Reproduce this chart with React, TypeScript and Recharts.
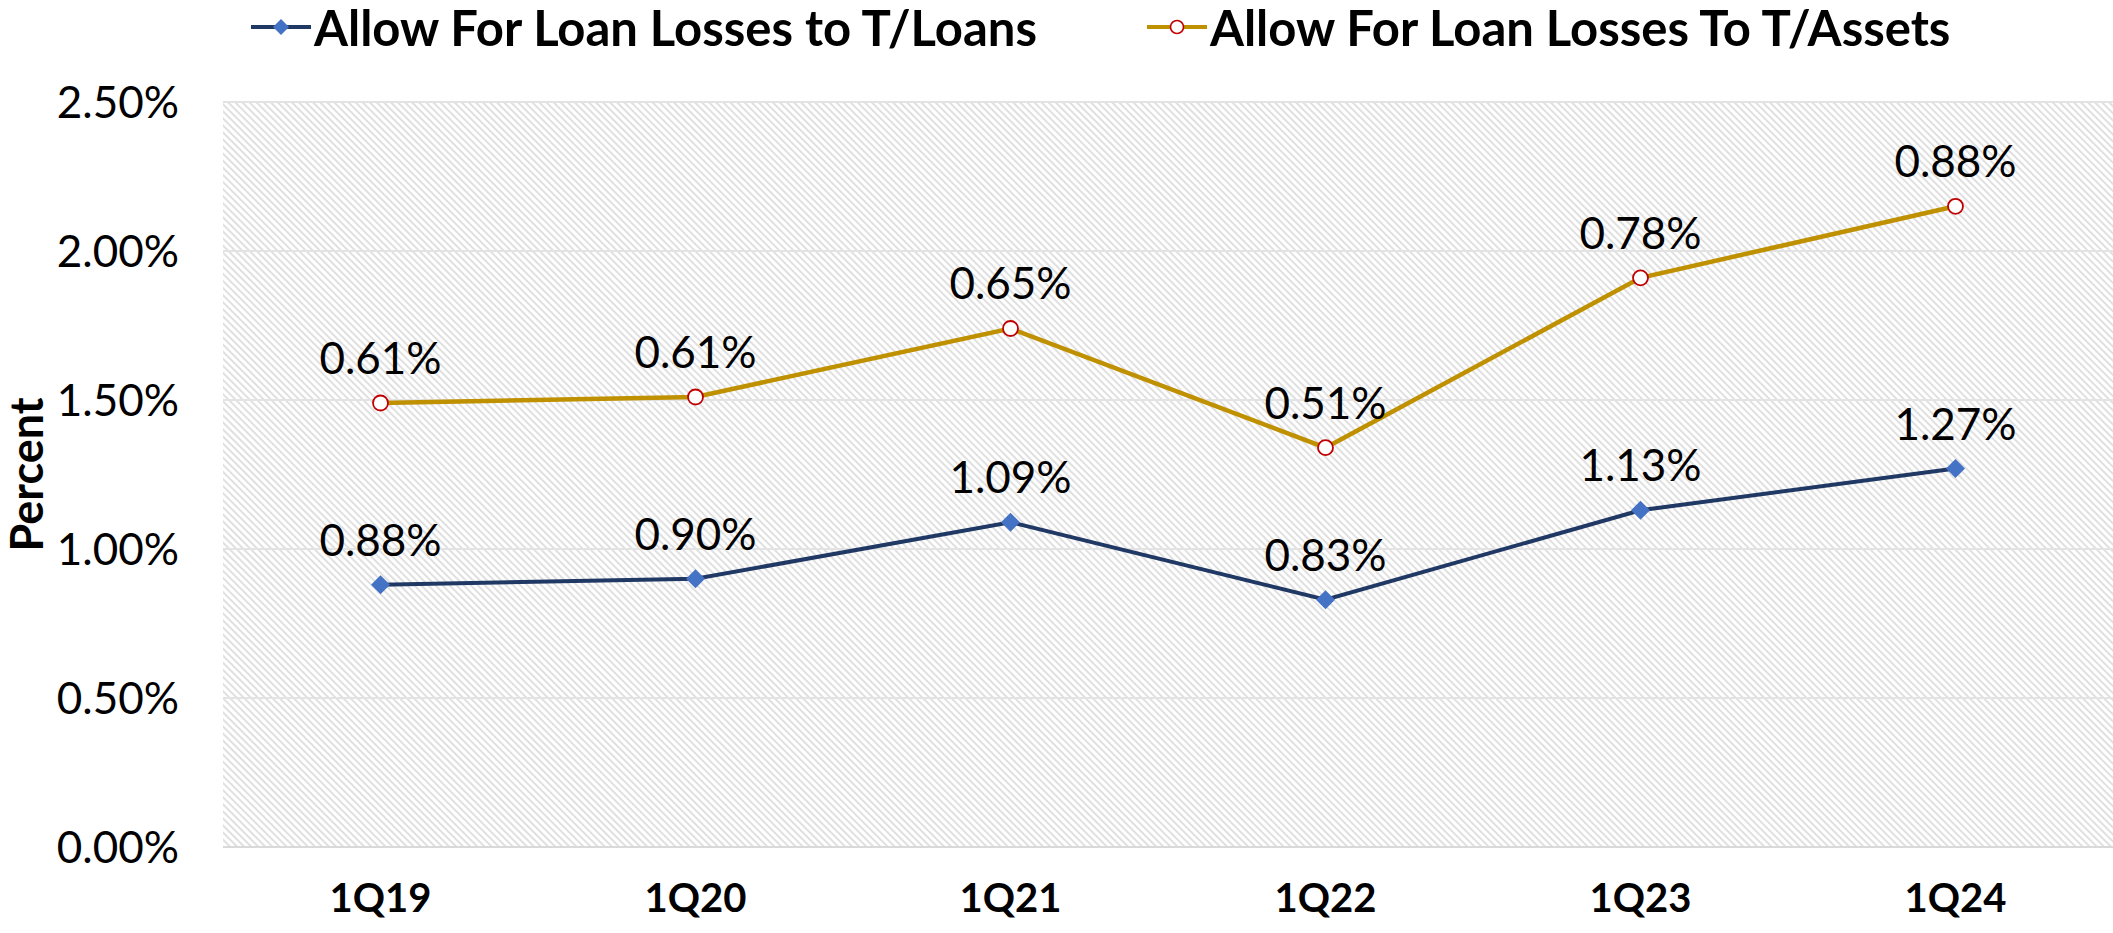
import { LineChart, Line, XAxis, YAxis, CartesianGrid } from "recharts"

const quarters = ["1Q19", "1Q20", "1Q21", "1Q22", "1Q23", "1Q24"]
// allowance for loan losses as % of total loans
const toLoans = [0.88, 0.9, 1.09, 0.83, 1.13, 1.27]
// allowance for loan losses as % of total assets (stacked on top of the loans series in the chart)
const toAssets = [0.61, 0.61, 0.65, 0.51, 0.78, 0.88]
const yTicks = [0, 0.5, 1, 1.5, 2, 2.5]

const data = quarters.map((q, i) => ({
  quarter: q,
  loans: toLoans[i],
  assets: toAssets[i],
  assetsStacked: +(toLoans[i] + toAssets[i]).toFixed(2),
}))

const FONT = "Lato, 'Open Sans', sans-serif"
const pct = (v: number) => `${v.toFixed(2)}%`

const Diamond = ({ cx, cy, size = 9.5, fill = "#4472c4" }: any) => (
  <polygon points={`${cx},${cy - size} ${cx + size},${cy} ${cx},${cy + size} ${cx - size},${cy}`} fill={fill} />
)

function ValueLabel(values: number[]) {
  return (props: any) => {
    const { x, y, index } = props
    return (
      <text key={`lbl-${index}`} x={x} y={y - 29} textAnchor="middle" fontSize={44} fontFamily={FONT} fill="#000">
        {pct(values[index])}
      </text>
    )
  }
}

function ChartLegend() {
  const item = (icon: any, text: string) => (
    <div style={{ display: "flex", alignItems: "center" }}>
      <svg width={60} height={20} style={{ marginRight: 3 }}>{icon}</svg>
      <span>{text}</span>
    </div>
  )
  return (
    <div style={{ position: "absolute", left: 251, top: 0, display: "flex", gap: 110, fontFamily: FONT, fontWeight: 700, fontSize: 49, color: "#000", lineHeight: "54px", whiteSpace: "nowrap" }}>
      {item(
        <>
          <line x1={0} y1={10} x2={60} y2={10} stroke="#203864" strokeWidth={4} />
          <Diamond cx={30} cy={10} size={8} />
        </>,
        "Allow For Loan Losses to T/Loans"
      )}
      {item(
        <>
          <line x1={0} y1={10} x2={60} y2={10} stroke="#bf9000" strokeWidth={4} />
          <circle cx={30} cy={10} r={6.5} fill="#fff" stroke="#c00000" strokeWidth={1.6} />
        </>,
        "Allow For Loan Losses To T/Assets"
      )}
    </div>
  )
}

export default function App() {
  return (
    <div style={{ position: "absolute", left: 0, top: 0, width: 2113, height: 933, background: "#fff" }}>
      <LineChart width={2113} height={933} data={data} margin={{ top: 102, right: 0, left: 0, bottom: 56 }}>
        <defs>
          <pattern id="hatch" width={5} height={5} patternUnits="userSpaceOnUse" patternTransform="rotate(45)">
            <line x1={0} y1={1} x2={5} y2={1} stroke="#d6d6d6" strokeWidth={1.5} />
          </pattern>
        </defs>
        <CartesianGrid vertical={false} fill="url(#hatch)" stroke="#e3e3e3" strokeWidth={2} />
        <XAxis
          dataKey="quarter"
          height={30}
          padding={{ left: 157.5, right: 157.5 }}
          tickLine={false}
          axisLine={{ stroke: "#d9d9d9", strokeWidth: 2 }}
          tickSize={0}
          tickMargin={37}
          tick={{ fontSize: 40, fontWeight: 700, fill: "#000", fontFamily: FONT }}
        />
        <YAxis
          width={223}
          domain={[0, 2.5]}
          ticks={yTicks}
          tickFormatter={pct}
          axisLine={false}
          tickLine={false}
          tickSize={0}
          tickMargin={44}
          tick={{ fontSize: 44, fill: "#000", fontFamily: FONT }}
          label={{
            content: ({ viewBox }: any) => {
              const x = 26
              const y = viewBox.y + viewBox.height / 2
              return (
                <text x={x} y={y} transform={`rotate(-90, ${x}, ${y})`} textAnchor="middle" dominantBaseline="central" fontSize={45} fontWeight={700} fontFamily={FONT} fill="#000">
                  Percent
                </text>
              )
            },
          }}
        />
        <Line
          dataKey="loans"
          stroke="#203864"
          strokeWidth={4}
          isAnimationActive={false}
          dot={(p: any) => <Diamond key={`dm-${p.index}`} cx={p.cx} cy={p.cy} />}
          activeDot={false}
          label={ValueLabel(toLoans)}
        />
        <Line
          dataKey="assetsStacked"
          stroke="#bf9000"
          strokeWidth={4.5}
          isAnimationActive={false}
          dot={(p: any) => <circle key={`cr-${p.index}`} cx={p.cx} cy={p.cy} r={7.5} fill="#fff" stroke="#c00000" strokeWidth={1.8} />}
          activeDot={false}
          label={ValueLabel(toAssets)}
        />
      </LineChart>
      <ChartLegend />
    </div>
  )
}
